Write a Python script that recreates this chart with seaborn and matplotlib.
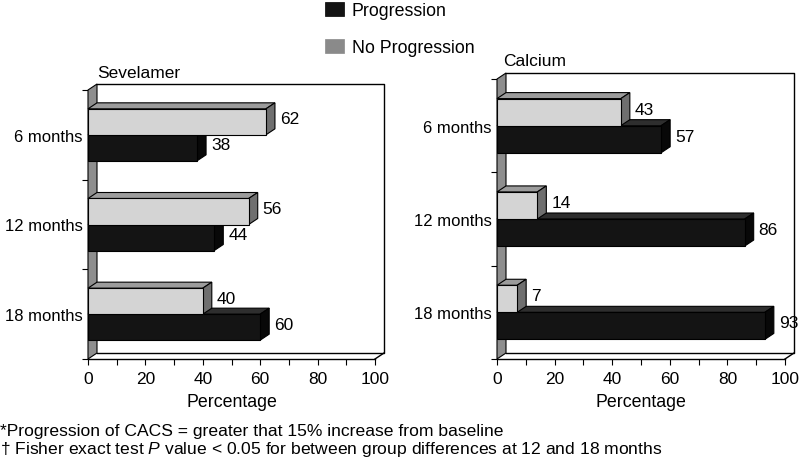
import numpy as np
import pandas as pd
import seaborn as sns
from matplotlib import pyplot as plt
from matplotlib.patches import Polygon, Patch

months = ["6 months", "12 months", "18 months"]
groups = ["No Progression", "Progression"]
sevelamer_prog = [38, 44, 60]
sevelamer_noprog = [62, 56, 40]
calcium_prog = [57, 86, 93]
calcium_noprog = [43, 14, 7]

plt.rcParams['font.family'] = ['Liberation Sans', 'DejaVu Sans']
plt.rcParams['mathtext.fontset'] = 'custom'
plt.rcParams['mathtext.it'] = 'Liberation Sans:italic'
plt.rcParams['mathtext.rm'] = 'Liberation Sans'

front = {"No Progression": "#d4d4d4", "Progression": "#141414"}
top_face = {"No Progression": "#9c9c9c", "Progression": "#2e2e2e"}
side_face = {"No Progression": "#6f6f6f", "Progression": "#080808"}
DEPTH = (9, 6)  # pixels, 3d offset of the back plane


def long_df(prog, noprog):
    return pd.DataFrame({
        "month": months * 2,
        "group": ["Progression"] * 3 + ["No Progression"] * 3,
        "pct": prog + noprog,
    })


def panel(ax, df):
    sns.barplot(data=df, x="pct", y="month", hue="group", hue_order=groups,
                palette=front, orient="h", width=0.58, saturation=1,
                edgecolor="black", linewidth=0.8, legend=False, ax=ax)
    ax.set_xlim(0, 100)
    ax.set_ylim(2.5, -0.5)

    # depth in data units
    o = ax.transData.transform((0, 0))
    dx, dy = ax.transData.inverted().transform(o + np.array(DEPTH))

    for i, (g, cont) in enumerate(zip(groups, ax.containers)):
        z = 3 + 2 * (len(groups) - i)
        for bar in cont:
            bar.set_zorder(z + 1)
            x0, y0 = bar.get_x(), bar.get_y()
            w, h = bar.get_width(), bar.get_height()
            yt, yb = y0, y0 + h
            ax.add_patch(Polygon([(x0, yt), (x0 + w, yt), (x0 + w + dx, yt + dy), (x0 + dx, yt + dy)],
                                 closed=True, fc=top_face[g], ec="black", lw=0.8, zorder=z, clip_on=False))
            ax.add_patch(Polygon([(x0 + w, yt), (x0 + w + dx, yt + dy), (x0 + w + dx, yb + dy), (x0 + w, yb)],
                                 closed=True, fc=side_face[g], ec="black", lw=0.8, zorder=z, clip_on=False))
            ax.annotate(f"{w:.0f}", xy=(w, (yt + yb) / 2), xytext=(DEPTH[0] + 5, 3),
                        textcoords="offset pixels", va="center", ha="left",
                        fontsize=12.5, zorder=10)

    # left wall and back frame
    ax.add_patch(Polygon([(0, -0.5), (dx, -0.5 + dy), (dx, 2.5 + dy), (0, 2.5)],
                         closed=True, fc="#8e8e8e", ec="black", lw=0.8, zorder=2, clip_on=False))
    ax.plot([dx, 100 + dx, 100 + dx, dx], [-0.5 + dy, -0.5 + dy, 2.5 + dy, 2.5 + dy],
            color="black", lw=1, clip_on=False, zorder=1)
    ax.plot([100, 100 + dx], [2.5, 2.5 + dy], color="black", lw=1, clip_on=False, zorder=1)

    for s in ["top", "right", "left"]:
        ax.spines[s].set_visible(False)
    ax.spines["bottom"].set_linewidth(1)

    ax.set_xticks(range(0, 101, 20))
    ax.set_xticks(range(10, 100, 20), minor=True)
    ax.tick_params(axis="x", which="both", length=4, width=0.8, labelsize=12.5, pad=5)
    ax.set_yticks([-0.5, 0.5, 1.5, 2.5], minor=True)
    ax.tick_params(axis="y", which="minor", length=4, width=0.8)
    ax.tick_params(axis="y", which="major", length=0, labelsize=12, pad=4)
    ax.set_xlabel("Percentage", fontsize=12.8, labelpad=5)
    ax.set_ylabel("")


fig = plt.figure(figsize=(8, 4.6), dpi=100)
ax1 = fig.add_axes([88 / 800, 1 - 360 / 460, 287 / 800, 269 / 460])
ax2 = fig.add_axes([497 / 800, 1 - 360 / 460, 288 / 800, 280 / 460])

panel(ax1, long_df(sevelamer_prog, sevelamer_noprog))
panel(ax2, long_df(calcium_prog, calcium_noprog))

fig.text(97 / 800, 1 - 73 / 460, "Sevelamer", fontsize=12.5, va="center", ha="left")
fig.text(503 / 800, 1 - 62 / 460, "Calcium", fontsize=12.5, va="center", ha="left")

handles = [Patch(fc="#141414", ec="black", lw=0.5), Patch(fc="#8a8a8a", ec="#8a8a8a", lw=0.5)]
fig.legend(handles, ["Progression", "No Progression"], loc="upper left",
           bbox_to_anchor=(325 / 800, 1 - 3 / 460), frameon=False, fontsize=12.8,
           handlelength=1.05, handleheight=0.8, handletextpad=0.45,
           labelspacing=1.15, borderpad=0, borderaxespad=0)

fig.text(0.0, 1 - 432 / 460, "*Progression of CACS = greater that 15% increase from baseline",
         fontsize=12.6, va="center", ha="left")
fig.text(0.0, 1 - 450 / 460,
         "\u2020 Fisher exact test $\\it{P}$ value < 0.05 for between group differences at 12 and 18 months",
         fontsize=12.6, va="center", ha="left")

fig.savefig("out.png", dpi=100)
